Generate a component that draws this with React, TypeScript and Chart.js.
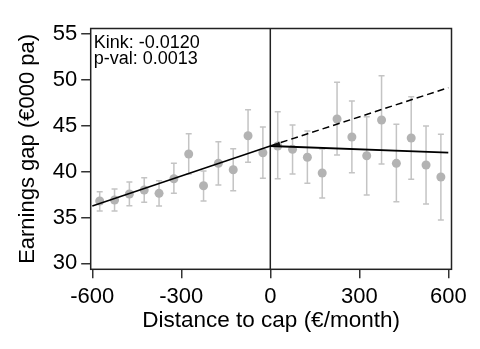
import React, { useEffect, useRef } from "react";
import { Chart, registerables } from "chart.js";

Chart.register(...registerables);

// ---- data ----
const binCenters = [
  -575, -525, -475, -425, -375, -325, -275, -225, -175, -125, -75, -25,
  25, 75, 125, 175, 225, 275, 325, 375, 425, 475, 525, 575,
];
const binMeans = [
  36.79, 36.9, 37.56, 38.0, 37.63, 39.22, 41.92, 38.46, 40.9, 40.2, 43.91, 42.06,
  42.79, 42.43, 41.56, 39.85, 45.73, 43.77, 41.73, 45.62, 40.9, 43.66, 40.72, 39.41,
];
const binUpper = [
  37.81, 38.1, 38.86, 39.33, 39.0, 40.9, 44.13, 40.06, 43.26, 42.49, 46.75, 44.86,
  46.53, 45.08, 44.42, 42.46, 49.73, 47.7, 45.98, 50.45, 45.15, 48.16, 44.97, 44.06,
];
const binLower = [
  35.7, 35.7, 36.28, 36.65, 36.25, 37.63, 39.74, 36.79, 38.54, 37.92, 41.01, 39.27,
  39.22, 39.74, 38.72, 37.12, 41.81, 39.88, 37.45, 40.83, 36.72, 39.16, 36.47, 34.72,
];
const leftFitX = [-600, 0];
const leftFitY = [36.25, 42.79];
const counterfactualX = [0, 600];
const counterfactualY = [42.79, 49.15];
const rightFitX = [0, 600];
const rightFitY = [42.79, 42.06];
const xTickValues = [-600, -300, 0, 300, 600];
const yTickValues = [30, 35, 40, 45, 50, 55];
const annotationLines = ["Kink: -0.0120", "p-val: 0.0013"];
const xTitle = "Distance to cap (€/month)";
const yTitle = "Earnings gap (€000 pa)";

const FONT = "'Liberation Sans', Arial, Helvetica, sans-serif";

const overlay = {
  id: "overlay",
  beforeDatasetsDraw(chart: any) {
    const { ctx, chartArea, scales } = chart;
    const xs = scales.x;
    const ys = scales.y;
    ctx.save();
    // error bars
    ctx.strokeStyle = "#c4c4c4";
    ctx.lineWidth = 1.5;
    for (let i = 0; i < binCenters.length; i++) {
      const px = xs.getPixelForValue(binCenters[i]);
      const pt = ys.getPixelForValue(binUpper[i]);
      const pb = ys.getPixelForValue(binLower[i]);
      ctx.beginPath();
      ctx.moveTo(px, pt);
      ctx.lineTo(px, pb);
      ctx.moveTo(px - 3, pt);
      ctx.lineTo(px + 3, pt);
      ctx.moveTo(px - 3, pb);
      ctx.lineTo(px + 3, pb);
      ctx.stroke();
    }
    // vertical line at cap
    const x0 = xs.getPixelForValue(0);
    ctx.strokeStyle = "#222";
    ctx.lineWidth = 1.5;
    ctx.beginPath();
    ctx.moveTo(x0, chartArea.top);
    ctx.lineTo(x0, chartArea.bottom);
    ctx.stroke();
    ctx.restore();
  },
  afterDraw(chart: any) {
    const { ctx, chartArea, scales } = chart;
    const xs = scales.x;
    const ys = scales.y;
    ctx.save();
    // frame
    ctx.strokeStyle = "#222";
    ctx.lineWidth = 1.5;
    ctx.strokeRect(
      chartArea.left,
      chartArea.top,
      chartArea.right - chartArea.left,
      chartArea.bottom - chartArea.top
    );
    // small arrowhead at kink on counterfactual line
    const ax = xs.getPixelForValue(counterfactualX[0]) + 3;
    const ay = ys.getPixelForValue(counterfactualY[0]);
    const bx = xs.getPixelForValue(counterfactualX[1]);
    const by = ys.getPixelForValue(counterfactualY[1]);
    const ang = Math.atan2(by - ay, bx - ax);
    ctx.fillStyle = "#111";
    ctx.beginPath();
    ctx.moveTo(ax, ay);
    ctx.lineTo(ax + 7 * Math.cos(ang) - 2.5 * Math.sin(ang), ay + 7 * Math.sin(ang) + 2.5 * Math.cos(ang));
    ctx.lineTo(ax + 7 * Math.cos(ang) + 2.5 * Math.sin(ang), ay + 7 * Math.sin(ang) - 2.5 * Math.cos(ang));
    ctx.closePath();
    ctx.fill();
    // annotation
    ctx.fillStyle = "#000";
    ctx.font = `18px ${FONT}`;
    ctx.textAlign = "left";
    ctx.textBaseline = "alphabetic";
    annotationLines.forEach((t, i) => {
      ctx.fillText(t, chartArea.left + 3, chartArea.top + 19.5 + i * 16);
    });
    ctx.restore();
  },
};

export default function App() {
  const ref = useRef<HTMLCanvasElement | null>(null);
  useEffect(() => {
    document.body.style.margin = "0";
    const canvas = ref.current;
    if (!canvas) return;
    const chart = new Chart(canvas, {
      type: "scatter",
      data: {
        datasets: [
          {
            type: "line",
            data: leftFitX.map((x, i) => ({ x, y: leftFitY[i] })),
            borderColor: "#000",
            borderWidth: 1.5,
            pointRadius: 0,
            order: 1,
          } as any,
          {
            type: "line",
            data: counterfactualX.map((x, i) => ({ x, y: counterfactualY[i] })),
            borderColor: "#000",
            borderWidth: 1.5,
            borderDash: [7, 4],
            pointRadius: 0,
            order: 1,
          } as any,
          {
            type: "line",
            data: rightFitX.map((x, i) => ({ x, y: rightFitY[i] })),
            borderColor: "#000",
            borderWidth: 1.8,
            pointRadius: 0,
            order: 1,
          } as any,
          {
            type: "scatter",
            data: binCenters.map((x, i) => ({ x, y: binMeans[i] })),
            backgroundColor: "#b3b3b3",
            borderColor: "#b3b3b3",
            pointRadius: 4.5,
            pointBorderWidth: 0,
            order: 2,
          },
        ],
      },
      options: {
        animation: false,
        responsive: false,
        layout: { padding: { left: 0, top: 28.5, right: 28.5, bottom: 0 } },
        plugins: { legend: { display: false }, tooltip: { enabled: false } },
        scales: {
          x: {
            type: "linear",
            min: -605.4,
            max: 610.8,
            afterBuildTicks: (s: any) => {
              s.ticks = xTickValues.map((v) => ({ value: v }));
            },
            afterFit: (s: any) => {
              s.height = 349 - 269.3;
            },
            border: { display: false },
            grid: {
              drawOnChartArea: false,
              drawTicks: true,
              tickLength: 9,
              color: "#333",
              lineWidth: 1.5,
            },
            ticks: {
              color: "#000",
              font: { family: FONT, size: 22 },
              padding: 5,
              maxRotation: 0,
              autoSkip: false,
            },
            title: {
              display: true,
              text: xTitle,
              color: "#000",
              font: { family: FONT, size: 22.5 },
              padding: { top: 0, bottom: 15 },
            },
          },
          y: {
            type: "linear",
            min: 29.35,
            max: 55.6,
            afterBuildTicks: (s: any) => {
              s.ticks = yTickValues.map((v) => ({ value: v }));
            },
            afterFit: (s: any) => {
              s.width = 90.7;
            },
            border: { display: false },
            grid: {
              drawOnChartArea: false,
              drawTicks: true,
              tickLength: 9.5,
              color: "#333",
              lineWidth: 1.5,
            },
            ticks: {
              color: "#000",
              font: { family: FONT, size: 22 },
              padding: 4,
              autoSkip: false,
            },
            title: {
              display: true,
              text: yTitle,
              color: "#000",
              font: { family: FONT, size: 22 },
              padding: { top: 15, bottom: 0 },
            },
          },
        },
      },
      plugins: [overlay],
    });
    return () => chart.destroy();
  }, []);
  return <canvas ref={ref} width={480} height={349} style={{ display: "block" }} />;
}
